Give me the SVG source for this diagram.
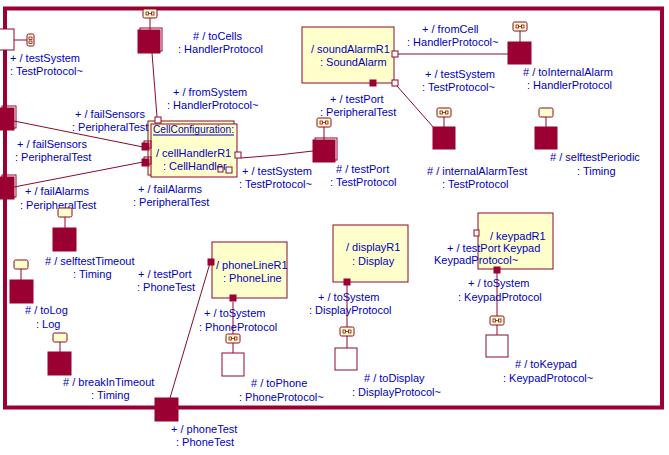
<svg xmlns="http://www.w3.org/2000/svg" width="669" height="455" viewBox="0 0 669 455">
<style>
text{font-family:"Liberation Sans",Arial,sans-serif;font-size:11px;fill:#0000c0}
.frame{fill:none;stroke:#9b0032;stroke-width:4}
.node{fill:#ffffcc;stroke:#8b0a2a;stroke-width:1}
.pf{fill:#9b0032;stroke:#9b0032;stroke-width:1}
.pw{fill:#fff;stroke:#8b0a2a;stroke-width:1}
.sh{fill:none;stroke:#9b0032;stroke-width:1}
.ln{fill:none;stroke:#8b0a2a;stroke-width:1}
.gl{fill:#ffffcc;stroke:#8b0a2a;stroke-width:1}
</style>
<defs>
<g id="gh"><rect class="gl" x="0" y="0" width="14" height="9" rx="1.5"/><rect x="3" y="3" width="2.5" height="3" fill="none" stroke="#8b0a2a" stroke-width="0.8"/><rect x="8.5" y="3" width="2.5" height="3" fill="none" stroke="#8b0a2a" stroke-width="0.8"/><line x1="5.5" y1="4.5" x2="8.5" y2="4.5" stroke="#8b0a2a" stroke-width="0.8"/></g>
<g id="gb"><rect class="gl" x="0" y="0" width="14" height="9" rx="1.5"/></g>
</defs>
<rect width="669" height="455" fill="#fff"/>
<rect class="frame" x="5" y="8.5" width="657" height="399"/>

<g id="connectors">
<line class="ln" x1="14" y1="40" x2="27" y2="40"/>
<line class="ln" x1="150" y1="18" x2="150" y2="30"/>
<line class="ln" x1="152" y1="53" x2="157" y2="117"/>
<line class="ln" x1="14" y1="121" x2="143" y2="147"/>
<line class="ln" x1="14" y1="187" x2="143" y2="162"/>
<polyline class="ln" points="241,158 278,155 313,151"/>
<line class="ln" x1="324" y1="127" x2="324" y2="140"/>
<line class="ln" x1="398" y1="54" x2="508" y2="54"/>
<line class="ln" x1="520" y1="31" x2="520" y2="42"/>
<line class="ln" x1="397" y1="86" x2="434" y2="128"/>
<line class="ln" x1="444" y1="117" x2="444" y2="127"/>
<line class="ln" x1="546" y1="117" x2="546" y2="127"/>
<line class="ln" x1="65" y1="217" x2="65" y2="228"/>
<line class="ln" x1="21" y1="269" x2="21" y2="280"/>
<line class="ln" x1="60" y1="342" x2="60" y2="352"/>
<line class="ln" x1="170" y1="398" x2="210" y2="263"/>
<line class="ln" x1="233" y1="302" x2="233" y2="353"/>
<line class="ln" x1="347" y1="285" x2="347" y2="348"/>
<line class="ln" x1="497" y1="273" x2="497" y2="335"/>
</g>

<g id="testSystemBorder">
<rect class="pw" x="-1" y="29" width="15" height="21"/>
<rect class="gl" x="27" y="34" width="7" height="12" rx="1.5"/>
<rect x="29" y="37" width="3" height="2.5" fill="none" stroke="#8b0a2a" stroke-width="0.8"/>
<rect x="29" y="41" width="3" height="2.5" fill="none" stroke="#8b0a2a" stroke-width="0.8"/>
<text x="10" y="62">+ / testSystem</text>
<text x="10" y="75">: TestProtocol~</text>
</g>

<g id="failSensorsBorder">
<rect class="sh" x="2" y="106" width="14" height="22"/>
<rect class="pf" x="0" y="108" width="14" height="22"/>
<text x="17" y="148">+ / failSensors</text>
<text x="15" y="161">: PeripheralTest</text>
</g>

<g id="failAlarmsBorder">
<rect class="sh" x="2" y="175" width="14" height="22"/>
<rect class="pf" x="0" y="177" width="14" height="22"/>
<text x="25" y="195">+ / failAlarms</text>
<text x="20" y="209">: PeripheralTest</text>
</g>

<g id="toCells">
<use href="#gh" x="143" y="9"/>
<rect class="sh" x="140" y="28" width="22" height="23"/>
<rect class="pf" x="138" y="30" width="22" height="23"/>
<text x="193" y="40"># / toCells</text>
<text x="178" y="53">: HandlerProtocol</text>
</g>

<g id="cellHandlerR1">
<rect class="node" x="148" y="121" width="86" height="54"/>
<rect class="node" x="151" y="124" width="86" height="53"/>
<text x="153" y="133" textLength="81" lengthAdjust="spacingAndGlyphs">CellConfiguration:</text>
<line x1="153" y1="135" x2="234" y2="135" stroke="#0000c0" stroke-width="1"/>
<text x="156" y="157">/ cellHandlerR1</text>
<text x="163" y="170">: CellHandler</text>
<rect class="pw" x="155" y="117" width="6" height="6"/>
<rect class="sh" x="144" y="141" width="7" height="7"/>
<rect class="pf" x="142" y="143" width="7" height="7"/>
<rect class="sh" x="144" y="157" width="7" height="7"/>
<rect class="pf" x="142" y="159" width="7" height="7"/>
<rect class="pw" x="235" y="152" width="6" height="6"/>
<rect class="pw" x="218" y="167" width="5" height="5"/>
<rect class="pw" x="226" y="167" width="6" height="6"/>
<text x="75" y="118">+ / failSensors</text>
<text x="72" y="131">: PeripheralTest</text>
<text x="173" y="96">+ / fromSystem</text>
<text x="167" y="109">: HandlerProtocol~</text>
<text x="138" y="193">+ / failAlarms</text>
<text x="133" y="206">: PeripheralTest</text>
<text x="242" y="175">+ / testSystem</text>
<text x="239" y="188">: TestProtocol~</text>
</g>

<g id="testPortTP">
<use href="#gh" x="317" y="118"/>
<rect class="sh" x="315" y="138" width="22" height="22"/>
<rect class="pf" x="313" y="140" width="22" height="22"/>
<text x="336" y="173"># / testPort</text>
<text x="330" y="186">: TestProtocol</text>
</g>

<g id="soundAlarmR1">
<rect class="node" x="302" y="27" width="92" height="56"/>
<text x="311" y="53">/ soundAlarmR1</text>
<text x="320" y="66">: SoundAlarm</text>
<rect class="pw" x="392" y="51" width="6" height="6"/>
<rect class="pw" x="392" y="80" width="6" height="6"/>
<rect class="pf" x="370" y="80" width="6" height="6"/>
<text x="422" y="33">+ / fromCell</text>
<text x="407" y="46">: HandlerProtocol~</text>
<text x="425" y="78">+ / testSystem</text>
<text x="422" y="91">: TestProtocol~</text>
<text x="330" y="103">+ / testPort</text>
<text x="320" y="116">: PeripheralTest</text>
</g>

<g id="toInternalAlarm">
<use href="#gh" x="513" y="22"/>
<rect class="pf" x="508" y="42" width="23" height="22"/>
<text x="523" y="76"># / toInternalAlarm</text>
<text x="527" y="89">: HandlerProtocol</text>
</g>

<g id="internalAlarmTest">
<use href="#gh" x="437" y="108"/>
<rect class="pf" x="433" y="127" width="22" height="22"/>
<text x="427" y="175"># / internalAlarmTest</text>
<text x="442" y="188">: TestProtocol</text>
</g>

<g id="selftestPeriodic">
<use href="#gb" x="539" y="108"/>
<rect class="pf" x="535" y="127" width="22" height="22"/>
<text x="550" y="161"># / selftestPeriodic</text>
<text x="577" y="175">: Timing</text>
</g>

<g id="selftestTimeout">
<use href="#gb" x="58" y="208"/>
<rect class="pf" x="53" y="228" width="23" height="23"/>
<text x="45" y="265"># / selftestTimeout</text>
<text x="73" y="278">: Timing</text>
</g>

<g id="toLog">
<use href="#gb" x="14" y="260"/>
<rect class="pf" x="10" y="280" width="23" height="23"/>
<text x="25" y="314"># / toLog</text>
<text x="36" y="328">: Log</text>
</g>

<g id="breakInTimeout">
<use href="#gb" x="53" y="333"/>
<rect class="pf" x="48" y="352" width="23" height="23"/>
<text x="63" y="386"># / breakInTimeout</text>
<text x="91" y="399">: Timing</text>
</g>

<g id="phoneTestBorder">
<rect class="pf" x="155" y="398" width="23" height="23"/>
<text x="171" y="433">+ / phoneTest</text>
<text x="176" y="446">: PhoneTest</text>
</g>

<g id="phoneLineR1">
<rect class="node" x="212" y="242" width="75" height="56"/>
<text x="216" y="269">/ phoneLineR1</text>
<text x="223" y="282">: PhoneLine</text>
<rect class="pf" x="208" y="259" width="6" height="6"/>
<rect class="pf" x="230" y="295" width="6" height="6"/>
<text x="138" y="278">+ / testPort</text>
<text x="137" y="291">: PhoneTest</text>
<text x="204" y="317">+ / toSystem</text>
<text x="199" y="331">: PhoneProtocol</text>
</g>

<g id="toPhone">
<use href="#gh" x="226" y="334"/>
<rect class="pw" x="222" y="353" width="22" height="23"/>
<text x="251" y="387"># / toPhone</text>
<text x="239" y="401">: PhoneProtocol~</text>
</g>

<g id="displayR1">
<rect class="node" x="333" y="225" width="75" height="57"/>
<text x="346" y="251">/ displayR1</text>
<text x="352" y="265">: Display</text>
<rect class="pf" x="344" y="279" width="6" height="6"/>
<text x="318" y="301">+ / toSystem</text>
<text x="309" y="314">: DisplayProtocol</text>
</g>

<g id="toDisplay">
<use href="#gh" x="340" y="327"/>
<rect class="pw" x="335" y="348" width="22" height="22"/>
<text x="364" y="382"># / toDisplay</text>
<text x="352" y="396">: DisplayProtocol~</text>
</g>

<g id="keypadR1">
<rect class="node" x="478" y="213" width="75" height="56"/>
<text x="490" y="240">/ keypadR1</text>
<text x="503" y="252">Keypad</text>
<rect class="pw" x="474" y="230" width="5" height="6"/>
<rect class="pf" x="494" y="267" width="6" height="6"/>
<text x="447" y="252">+ / testPort</text>
<text x="434" y="264">KeypadProtocol~</text>
<text x="468" y="287">+ / toSystem</text>
<text x="458" y="301">: KeypadProtocol</text>
</g>

<g id="toKeypad">
<use href="#gh" x="490" y="316"/>
<rect class="pw" x="486" y="335" width="22" height="22"/>
<text x="515" y="368"># / toKeypad</text>
<text x="503" y="382">: KeypadProtocol~</text>
</g>
</svg>
